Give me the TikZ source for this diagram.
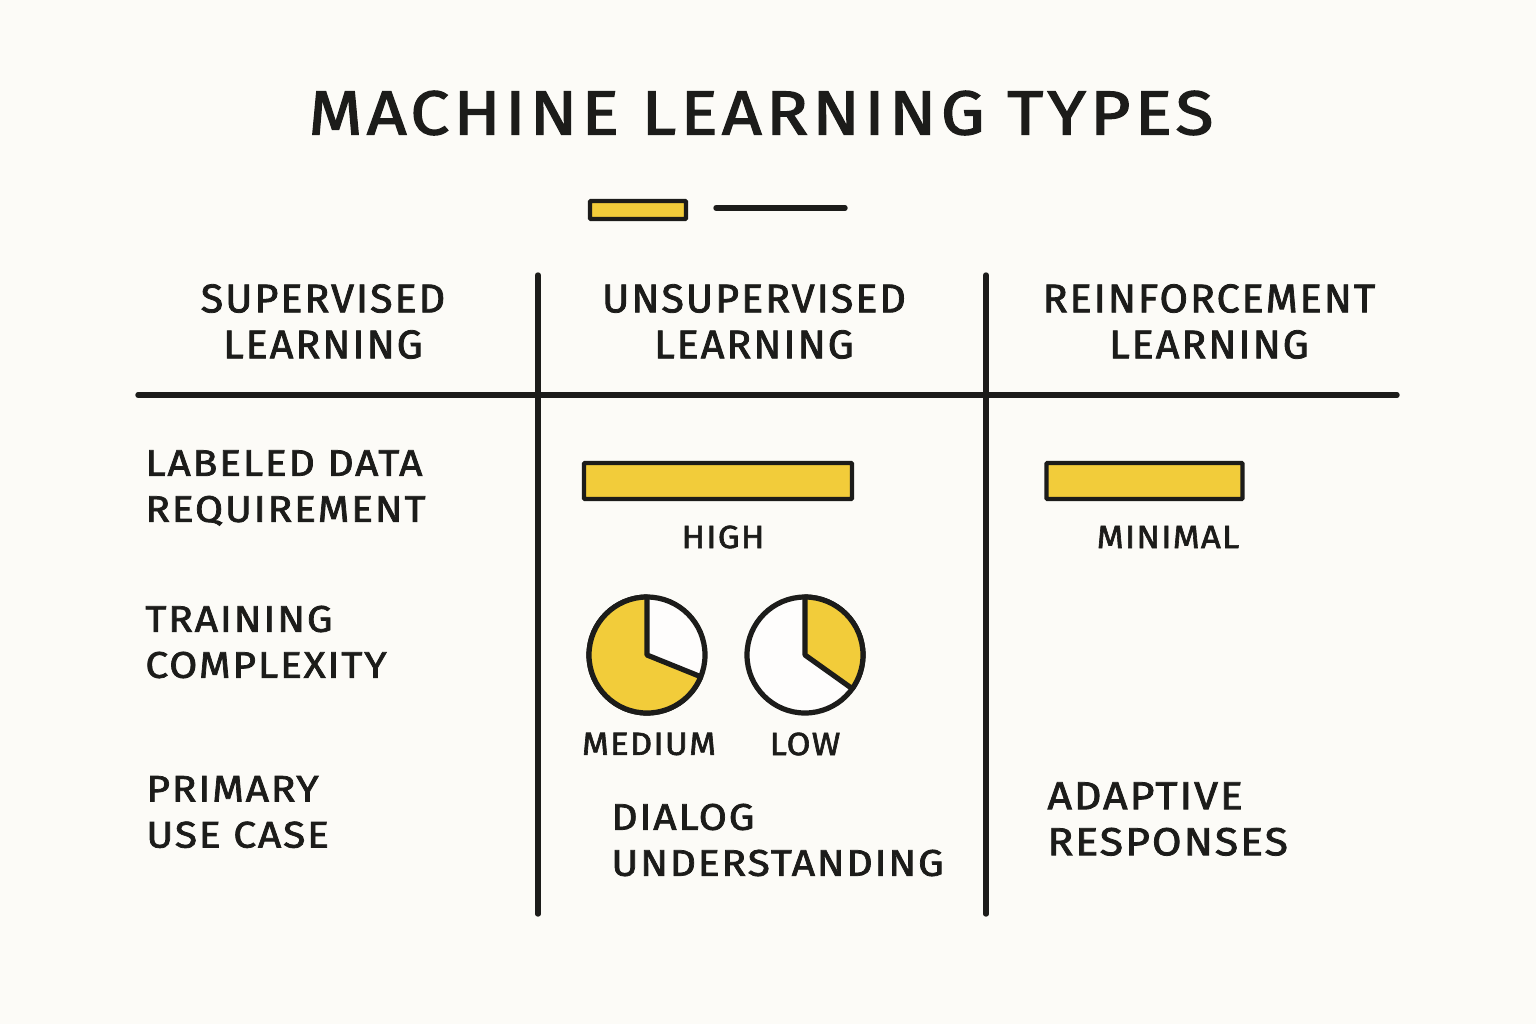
\documentclass[tikz,border=0pt]{standalone}
\usepackage{fontspec}
\newfontfamily\titlefont{Fira Sans}[LetterSpace=7,FakeBold=2.2,FakeStretch=1.12]
\newfontfamily\headfont{Fira Sans}[LetterSpace=5,FakeBold=2,FakeStretch=1.03]
\newfontfamily\rowfont{Fira Sans}[LetterSpace=5,FakeBold=2,FakeStretch=1.1]
\newfontfamily\tagfont{Fira Sans}[LetterSpace=4,FakeBold=2,FakeStretch=1.08]
\definecolor{paper}{HTML}{FCFBF7}
\definecolor{ink}{HTML}{1C1C1A}
\definecolor{gold}{HTML}{F2CC3A}
\tikzset{
  rule/.style={ink,line width=2.7pt,line cap=round},
  bar/.style={draw=ink,fill=gold,line width=2.2pt,rounded corners=0.5pt},
  pie/.style={draw=ink,line width=2.6pt,line join=round},
  head/.style={text=ink,font=\headfont\fontsize{20}{23}\selectfont,align=center,inner sep=0pt},
  rowlabel/.style={text=ink,font=\rowfont\fontsize{18.5}{23}\selectfont,align=left,anchor=west,inner sep=0pt},
  bigrow/.style={rowlabel,font=\rowfont\fontsize{19.5}{23}\selectfont},
  tag/.style={text=ink,font=\tagfont\fontsize{16}{20}\selectfont,inner sep=0pt},
}
\begin{document}
\begin{tikzpicture}[x=0.5pt,y=-0.5pt]
  \fill[paper] (0,0) rectangle (1536,1024);
  \useasboundingbox (0,0) rectangle (1536,1024);
  \node[text=ink,font=\titlefont\fontsize{31}{36}\selectfont,inner sep=0pt] (title) at (761,113) {MACHINE LEARNING TYPES};
  \node[bar,minimum width=48pt,minimum height=9pt,inner sep=0pt] (legendbar) at (638,210) {};
  \coordinate (legendl) at (716,208);
  \coordinate (legendr) at (845,208);
  \draw[rule] (legendl) -- (legendr);

  \coordinate (col1top) at (538,275);
  \coordinate (col1bot) at (538,914);
  \coordinate (col2top) at (986,275);
  \coordinate (col2bot) at (986,914);
  \coordinate (rowl) at (138,395);
  \coordinate (rowr) at (1397,395);
  \draw[rule] (col1top) -- (col1bot);
  \draw[rule] (col2top) -- (col2bot);
  \draw[rule] (rowl) -- (rowr);

  \node[head] (supervised) at (323,321.5) {SUPERVISED\\LEARNING};
  \node[head] (unsupervised) at (754,321.5) {UNSUPERVISED\\LEARNING};
  \node[head] (reinforcement) at (1209,321.5) {REINFORCEMENT\\LEARNING};

  \node[rowlabel] (labeled) at (145,488) {LABELED DATA\\REQUIREMENT};
  \node[rowlabel] (training) at (145,642) {TRAINING\\COMPLEXITY};
  \node[rowlabel] (primary) at (146,812) {PRIMARY\\USE CASE};

  \node[bar,minimum width=134pt,minimum height=18pt,inner sep=0pt] (highbar) at (718,481) {};
  \node[bar,minimum width=98pt,minimum height=18pt,inner sep=0pt] (minimalbar) at (1144.5,481) {};
  \node[tag] (high) at (723,537) {HIGH};
  \node[tag] (minimal) at (1168,537) {MINIMAL};

  \draw[pie,fill=white!60!paper] (647,655) circle (29pt);
  \draw[pie,fill=gold] (647,655) -- ++(90:29pt) arc (90:338:29pt) -- cycle;
  \draw[pie,fill=white!60!paper] (805,655) circle (29pt);
  \draw[pie,fill=gold] (805,655) -- ++(90:29pt) arc (90:-35.5:29pt) -- cycle;
  \node[tag] (medium) at (649,744) {MEDIUM};
  \node[tag] (low) at (805,744) {LOW};

  \node[rowlabel] (dialog) at (611,840) {DIALOG\\UNDERSTANDING};
  \node[bigrow] (adaptive) at (1047,819) {ADAPTIVE\\RESPONSES};
\end{tikzpicture}
\end{document}
